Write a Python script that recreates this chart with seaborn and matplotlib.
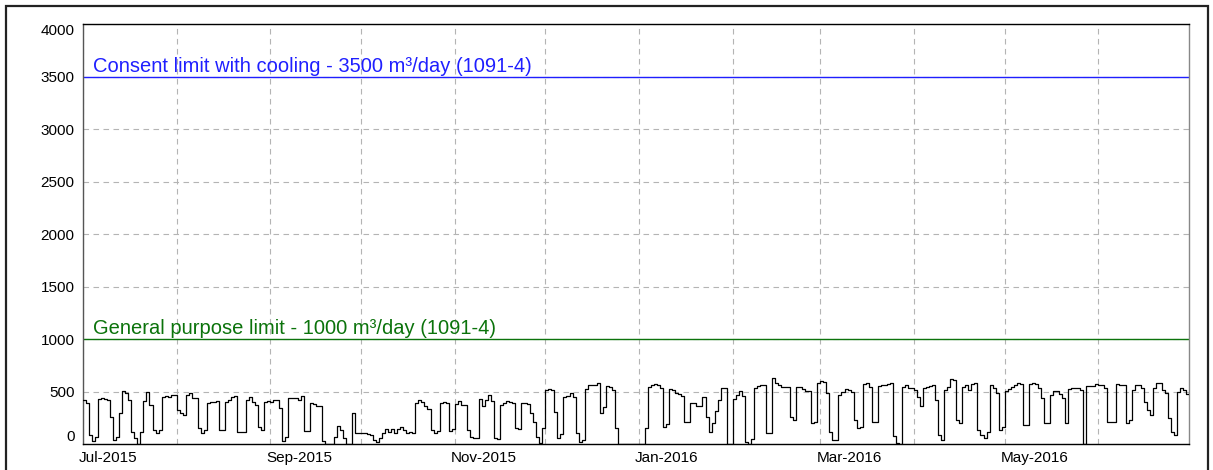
#!/usr/bin/env python3

"""Daily water take against consent limits, Jul-2015 to Jun-2016."""

import matplotlib

matplotlib.use("Agg")
import matplotlib.pyplot as plt
import matplotlib.transforms as mtransforms
import pandas as pd
import seaborn as sns
from matplotlib.patches import Rectangle

# daily take [m3/day], one value per day from 1 Jul 2015
start_date = "2015-07-01"
daily_take = [
    422, 396, 88, 35, 73, 435, 441, 428, 420, 263,
    41, 73, 300, 511, 492, 422, 121, 57, 0, 121,
    416, 501, 375, 137, 105, 137, 448, 460, 448, 470,
    470, 327, 301, 279, 470, 486, 438, 438, 152, 111,
    140, 390, 406, 406, 416, 137, 137, 406, 422, 454,
    460, 121, 121, 121, 422, 448, 406, 375, 168, 137,
    406, 416, 406, 422, 422, 343, 35, 73, 444, 444,
    444, 422, 460, 127, 127, 390, 380, 368, 368, 30,
    0, 0, 0, 73, 175, 137, 57, 0, 0, 301,
    104, 104, 104, 104, 100, 88, 41, 25, 57, 104,
    143, 121, 143, 111, 143, 168, 137, 111, 121, 111,
    390, 422, 406, 365, 340, 137, 104, 127, 397, 406,
    390, 130, 143, 381, 416, 375, 375, 137, 73, 57,
    57, 428, 365, 422, 470, 416, 57, 47, 375, 390,
    416, 406, 390, 152, 143, 390, 390, 380, 295, 216,
    73, 10, 152, 517, 524, 517, 311, 57, 100, 448,
    460, 486, 448, 104, 25, 41, 527, 565, 565, 565,
    581, 295, 359, 556, 550, 517, 152, 0, 0, 0,
    0, 0, 0, 0, 0, 0, 152, 549, 565, 575,
    560, 540, 168, 190, 524, 517, 492, 480, 460, 216,
    216, 397, 397, 365, 365, 448, 263, 121, 200, 321,
    420, 533, 540, 0, 0, 428, 470, 511, 460, 25,
    0, 47, 533, 556, 565, 565, 104, 111, 628, 581,
    565, 549, 549, 549, 263, 232, 549, 545, 527, 511,
    511, 200, 216, 581, 606, 590, 492, 121, 41, 41,
    470, 495, 525, 520, 501, 232, 152, 168, 574, 587,
    549, 216, 216, 556, 565, 565, 574, 581, 80, 15,
    0, 549, 565, 533, 540, 520, 454, 365, 533, 550,
    556, 565, 422, 88, 41, 517, 550, 619, 610, 232,
    200, 549, 565, 520, 574, 587, 136, 88, 60, 121,
    565, 540, 486, 136, 168, 511, 530, 549, 565, 581,
    574, 184, 184, 574, 581, 574, 540, 438, 200, 200,
    470, 511, 505, 479, 438, 200, 524, 533, 540, 540,
    517, 0, 556, 556, 556, 574, 565, 565, 533, 216,
    216, 216, 574, 565, 565, 206, 232, 517, 565, 565,
    533, 406, 327, 279, 533, 581, 581, 517, 486, 248,
    121, 88, 501, 533, 517, 479,
]

consent_limit = 3500
general_limit = 1000
consent_label = "Consent limit with cooling - 3500 m³/day (1091-4)"
general_label = "General purpose limit - 1000 m³/day (1091-4)"
y_ticks = [0, 500, 1000, 1500, 2000, 2500, 3000, 3500, 4000]
x_start, x_end = "2015-07-01", "2016-07-01"

sns.set_theme(style="whitegrid", context="paper")
plt.rcParams["font.family"] = ["Liberation Sans", "DejaVu Sans"]


def main():
    dates = pd.date_range(start_date, periods=len(daily_take) + 1, freq="D")
    # repeat the last day so the final step reaches the end of the axis
    data = pd.DataFrame({"date": dates, "take": daily_take + daily_take[-1:]})

    fig = plt.figure(figsize=(12.13, 4.70), dpi=100)
    ax = fig.add_axes([83 / 1213, 1 - 444.3 / 470, 1106 / 1213, 420.3 / 470])

    sns.lineplot(
        data=data,
        x="date",
        y="take",
        drawstyle="steps-post",
        estimator=None,
        color="black",
        linewidth=0.9,
        ax=ax,
        zorder=3,
    )

    blue, green = "#1f1fff", "#0b730b"
    ax.axhline(consent_limit, color=blue, linewidth=1.0, zorder=2)
    ax.axhline(general_limit, color=green, linewidth=1.0, zorder=2)
    for level, label, colour in (
        (consent_limit, consent_label, blue),
        (general_limit, general_label, colour_green := green),
    ):
        ax.annotate(
            label,
            xy=(0, level),
            xycoords=ax.get_yaxis_transform(),
            xytext=(10, 5),
            textcoords="offset pixels",
            va="baseline",
            ha="left",
            fontsize=14.5,
            color=colour,
        )

    ax.set_xlim(pd.Timestamp(x_start), pd.Timestamp(x_end))
    ax.set_ylim(0, 4000)
    ax.set_yticks(y_ticks)

    months = pd.date_range(x_start, "2016-06-01", freq="MS")
    ax.set_xticks(months)
    ax.set_xticklabels(
        [m.strftime("%b-%Y") if m.month % 2 == 1 else "" for m in months]
    )

    ax.set_xlabel("")
    ax.set_ylabel("")
    ax.grid(True, color="#b4b4b4", linestyle=(0, (5, 4)), linewidth=0.8)
    ax.tick_params(length=0, labelsize=11, colors="black")
    ax.tick_params(axis="x", pad=5)
    ax.tick_params(axis="y", pad=6)

    shift = mtransforms.ScaledTranslation(-4 / 100, 0, fig.dpi_scale_trans)
    for lbl in ax.get_xticklabels():
        lbl.set_horizontalalignment("left")
        lbl.set_transform(lbl.get_transform() + shift)
    ylabels = ax.get_yticklabels()
    ylabels[0].set_verticalalignment("bottom")
    ylabels[-1].set_verticalalignment("top")

    for side, colour in (("top", "black"), ("bottom", "black"),
                         ("left", "#555555"), ("right", "#888888")):
        ax.spines[side].set_color(colour)
        ax.spines[side].set_linewidth(1.0)
        ax.spines[side].set_visible(True)

    fig.patches.append(
        Rectangle(
            (6 / 1213, -0.05),
            (1208 - 6) / 1213,
            1.05 - 5.5 / 470,
            transform=fig.transFigure,
            fill=False,
            edgecolor="#222222",
            linewidth=1.6,
        )
    )

    fig.savefig("out.png", dpi=100)
    plt.close(fig)


if __name__ == "__main__":
    main()
